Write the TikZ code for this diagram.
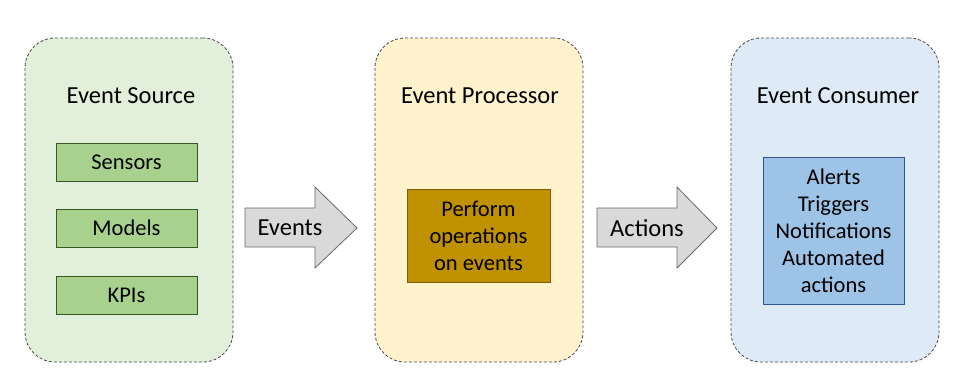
\documentclass[tikz,border=0pt]{standalone}
\usepackage{fontspec}
\setmainfont{Carlito}
\begin{document}
\begin{tikzpicture}[x=1pt,y=-1pt,
  container/.style={draw=containerline, rounded corners=30pt, line width=0.8pt,
    dash pattern=on 3pt off 2pt, minimum width=208pt, minimum height=324pt,
    inner sep=0pt},
  titletext/.style={font=\fontsize{24.5}{29}\selectfont, inner sep=0pt},
  item/.style={draw, line width=0.8pt, font=\fontsize{22.5}{27}\selectfont,
    align=center, inner sep=0pt},
  blockarrow/.style={draw=arrowline, fill=arrowfill, line width=0.8pt},
  arrowtext/.style={font=\fontsize{24.5}{29}\selectfont, inner sep=0pt}
]
\definecolor{containerline}{HTML}{4A4A4A}
\definecolor{srcfill}{HTML}{E2EFDA}
\definecolor{srcitem}{HTML}{A9D18E}
\definecolor{srcitemline}{HTML}{385723}
\definecolor{procfill}{HTML}{FFF2CC}
\definecolor{procitem}{HTML}{BF9000}
\definecolor{procitemline}{HTML}{7F6000}
\definecolor{consfill}{HTML}{DEEBF7}
\definecolor{consitem}{HTML}{9DC3E6}
\definecolor{consitemline}{HTML}{2F5597}
\definecolor{arrowfill}{HTML}{D9D9D9}
\definecolor{arrowline}{HTML}{6A6A6A}

\fill[white] (0,0) rectangle (963,388);
\useasboundingbox (0,0) rectangle (963,388);

% containers
\node[container, fill=srcfill] (source) at (129,200) {};
\node[container, fill=procfill] (processor) at (479,200) {};
\node[container, fill=consfill] (consumer) at (835,200) {};

% titles
\node[titletext] (sourcetitle) at (131,96) {Event Source};
\node[titletext] (proctitle) at (480,96) {Event Processor};
\node[titletext] (constitle) at (838,96) {Event Consumer};

% event source items
\node[item, fill=srcitem, draw=srcitemline, minimum width=141pt, minimum height=38pt] (sensors) at (126.5,162) {Sensors};
\node[item, fill=srcitem, draw=srcitemline, minimum width=141pt, minimum height=38pt] (models) at (126.5,228) {Models};
\node[item, fill=srcitem, draw=srcitemline, minimum width=141pt, minimum height=38pt] (kpis) at (126.5,295) {KPIs};

% processor item
\node[item, fill=procitem, draw=procitemline, minimum width=143pt, minimum height=93pt] (perform) at (478.5,235.5) {Perform\\operations\\on events};

% consumer item
\node[item, fill=consitem, draw=consitemline, minimum width=141pt, minimum height=147pt] (outputs) at (833.5,230.5) {Alerts\\Triggers\\Notifications\\Automated\\actions};

% block arrows
\coordinate (ea) at (245,208);
\draw[blockarrow] (ea) -- ++(70,0) -- ++(0,-21) -- ++(42,41) -- ++(-42,40) -- ++(0,-21) -- ++(-70,0) -- cycle;
\node[arrowtext] (events) at (290,228) {Events};

\coordinate (aa) at (597,208);
\draw[blockarrow] (aa) -- ++(80,0) -- ++(0,-21) -- ++(40,41) -- ++(-40,40) -- ++(0,-21) -- ++(-80,0) -- cycle;
\node[arrowtext] (actions) at (647,228) {Actions};
\end{tikzpicture}
\end{document}
